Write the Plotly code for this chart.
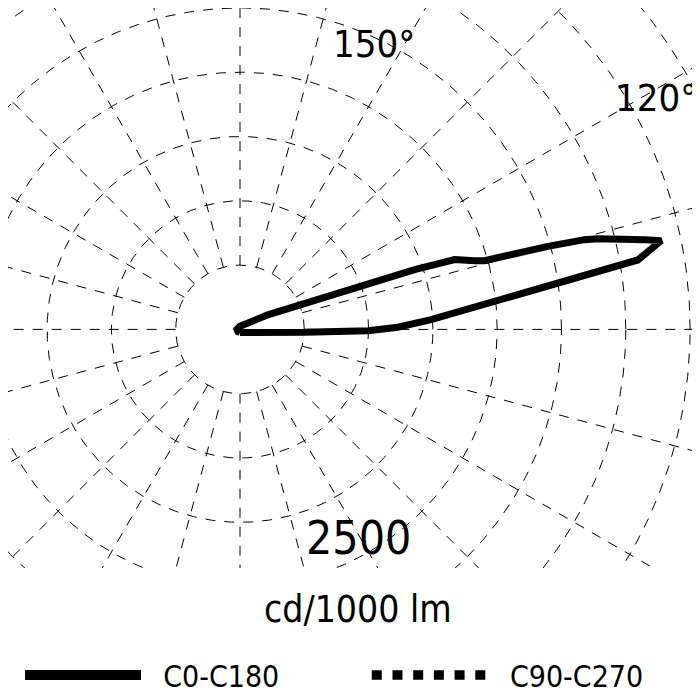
import numpy as np
import plotly.graph_objects as go

# ---------------- data (cd/1000 lm) ----------------
# C0-C180 plane: C0 half (gamma in degrees, 0 = nadir, 180 = zenith)
gamma_c0 = [0, 80.3, 87.4, 89.4, 90.8, 92.9, 95.0, 96.6, 98.0, 99.2, 99.9,
            101.9, 102.5, 104.2, 104.6, 105.1, 105.6, 105.7, 106.3, 108.0,
            108.9, 109.4, 110.2, 110.6, 112.9, 117.7, 180]
i_c0 = [30, 205, 630, 1245, 1535, 1860, 2195, 2525, 3025, 3525, 3925,
        4185, 4030, 3590, 3460, 3100, 2705, 2470, 2375, 2195,
        1795, 1455, 1120, 915, 575, 305, 30]
# C180 half
gamma_c180 = [180, 135, 90, 45, 0]
i_c180 = [30, 30, 30, 30, 30]
# C90-C270 plane (no visible curve in the diagram)
gamma_c90 = []
i_c90 = []

ring_values = [625, 1250, 1875, 2500, 3125, 3750, 4375, 5000, 5625]
spoke_angles = list(range(0, 360, 15))
angle_labels = ["150°", "120°"]
ring_label = "2500"
unit_label = "cd/1000 lm"
series_names = ["C0-C180", "C90-C270"]

# ---------------- helpers ----------------
PX = 625 / 64.3          # cd per screen pixel
BLACK = "#000000"
NBSP = "\u00a0"
THIN = "\u2009"


def to_xy(gamma, inten, side=1):
    g = np.radians(np.asarray(gamma, dtype=float))
    r = np.asarray(inten, dtype=float)
    return side * r * np.sin(g), -r * np.cos(g)


fig = go.Figure()

# grid rings
t = np.linspace(0, 2 * np.pi, 721)
for rv in ring_values:
    fig.add_trace(go.Scatter(x=rv * np.cos(t), y=rv * np.sin(t), mode="lines",
                             line=dict(color=BLACK, width=1, dash="10px,9px"),
                             hoverinfo="skip", showlegend=False))
# grid spokes (start at first ring)
r_out = ring_values[-1] * 1.2
for a in spoke_angles:
    xs, ys = to_xy([a, a], [ring_values[0], r_out])
    fig.add_trace(go.Scatter(x=xs, y=ys, mode="lines",
                             line=dict(color=BLACK, width=1, dash="10px,9px"),
                             hoverinfo="skip", showlegend=False))

# C0-C180 curve
x0, y0 = to_xy(gamma_c0, i_c0, 1)
x1, y1 = to_xy(gamma_c180, i_c180, -1)
fig.add_trace(go.Scatter(x=np.concatenate([x0, x1]), y=np.concatenate([y0, y1]),
                         mode="lines", name=series_names[0], legendgroup="c0",
                         line=dict(color=BLACK, width=7), showlegend=False))
fig.add_trace(go.Scatter(x=[None], y=[None], mode="lines",
                         name=NBSP * 2 + series_names[0] + NBSP * 9 + THIN,
                         legendgroup="c0", line=dict(color=BLACK, width=10)))
# C90-C270 curve
x2, y2 = to_xy(gamma_c90, i_c90, 1)
fig.add_trace(go.Scatter(x=list(x2) if len(x2) else [None], y=list(y2) if len(y2) else [None],
                         mode="lines", name=NBSP * 2 + series_names[1],
                         line=dict(color=BLACK, width=9.5, dash="10px,10.7px")))

# labels
def label(text, gamma, r, size, family):
    x, y = to_xy([gamma], [r])
    fig.add_annotation(x=float(x[0]), y=float(y[0]), text=text, showarrow=False,
                       xanchor="center", yanchor="middle",
                       font=dict(size=size, family=family, color=BLACK))

COND = "DejaVu Sans Condensed, DejaVu Sans, sans-serif"
label(angle_labels[0], 154.8, 3070, 38, COND)
label(angle_labels[1], 119.1, 4623, 38, COND)
label(ring_label, 29.5, 2330, 46, COND)

fig.add_annotation(xref="paper", yref="paper", x=0.5, y=(700 - 601) / 700,
                   text=unit_label, showarrow=False, xanchor="center", yanchor="middle",
                   font=dict(size=37, family=COND, color=BLACK))

fig.update_layout(
    width=700, height=700,
    margin=dict(l=0, r=0, t=0, b=0),
    paper_bgcolor="white", plot_bgcolor="white",
    xaxis=dict(range=[-232 * PX, 468 * PX], visible=False, domain=[0, 1]),
    yaxis=dict(range=[-(560 - 321.4) * PX, 321.4 * PX], visible=False,
               domain=[140 / 700, 1]),
    showlegend=True,
    legend=dict(orientation="h", x=12 / 700, xanchor="left",
                y=(700 - 667) / 700, yanchor="middle",
                font=dict(size=30, family=COND, color=BLACK),
                itemwidth=116,
                bgcolor="rgba(0,0,0,0)", borderwidth=0, tracegroupgap=0),
)

fig.write_html("out.html")
